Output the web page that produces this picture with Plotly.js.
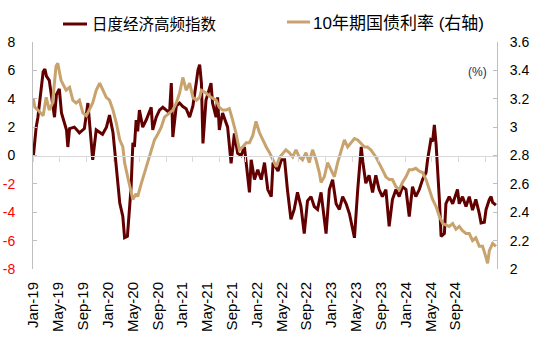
<!DOCTYPE html>
<html>
<head>
<meta charset="utf-8">
<script src="https://cdn.plot.ly/plotly-3.0.1.min.js"></script>
<style>html,body{margin:0;padding:0;background:#fff;}#chart{width:557px;height:346px;}</style>
</head>
<body>
<div id="chart"></div>
<script>
// 日度经济高频指数 (left axis)
const indexDates = ['2019-01-01','2019-01-14','2019-01-22','2019-02-15','2019-02-23','2019-03-02','2019-03-15','2019-03-30','2019-04-08','2019-04-17','2019-04-30','2019-05-10','2019-05-23','2019-06-02','2019-06-08','2019-06-16','2019-07-08','2019-07-31','2019-08-23','2019-09-08','2019-09-20','2019-09-30','2019-10-16','2019-11-14','2019-12-02','2019-12-16','2020-01-01','2020-01-16','2020-01-23','2020-02-01','2020-02-15','2020-02-23','2020-03-07','2020-03-16','2020-03-24','2020-04-01','2020-04-08','2020-04-16','2020-04-23','2020-05-01','2020-05-16','2020-06-01','2020-06-24','2020-07-01','2020-07-17','2020-08-01','2020-08-16','2020-09-01','2020-09-16','2020-09-24','2020-10-01','2020-10-17','2020-11-01','2020-11-16','2020-12-01','2020-12-17','2021-01-01','2021-01-17','2021-01-24','2021-02-01','2021-02-09','2021-02-16','2021-03-02','2021-03-25','2021-04-01','2021-04-17','2021-04-24','2021-05-02','2021-05-17','2021-06-09','2021-06-25','2021-07-10','2021-07-25','2021-08-10','2021-08-25','2021-09-17','2021-09-25','2021-10-10','2021-10-25','2021-11-10','2021-11-25','2021-12-10','2021-12-26','2022-01-03','2022-01-26','2022-02-10','2022-02-25','2022-03-10','2022-03-26','2022-04-10','2022-04-25','2022-05-11','2022-05-26','2022-06-10','2022-06-26','2022-07-11','2022-07-26','2022-08-11','2022-08-26','2022-09-03','2022-09-18','2022-10-03','2022-10-19','2022-11-03','2022-11-18','2022-12-04','2022-12-19','2023-01-03','2023-01-11','2023-01-26','2023-02-11','2023-02-18','2023-03-04','2023-03-19','2023-04-04','2023-04-19','2023-05-04','2023-05-19','2023-06-04','2023-06-19','2023-07-04','2023-07-20','2023-08-04','2023-08-19','2023-09-04','2023-09-19','2023-10-04','2023-10-19','2023-11-04','2023-11-19','2023-12-05','2023-12-12','2023-12-20','2023-12-27','2024-01-04','2024-01-12','2024-01-20','2024-01-27','2024-02-04','2024-02-12','2024-02-27','2024-03-05','2024-03-20','2024-04-05','2024-04-20','2024-04-27','2024-05-05','2024-05-20','2024-06-05','2024-06-20','2024-07-05','2024-07-20','2024-08-05','2024-08-13','2024-08-28','2024-09-05','2024-09-20','2024-09-28','2024-10-05','2024-10-20'];
const indexValues = [-0.1,2.0,2.7,5.9,6.1,5.6,5.3,3.7,2.7,4.3,4.7,3.0,2.2,1.8,0.6,1.9,2.0,1.6,1.9,3.7,1.5,-0.3,1.8,1.5,2.0,2.85,1.6,-0.8,-1.95,-3.35,-4.3,-5.8,-5.7,-3.8,-2.2,0.9,0.6,2.5,1.7,3.2,2.0,2.5,3.4,1.8,2.7,3.2,3.4,3.2,3.0,5.1,1.3,3.5,3.7,3.45,3.3,2.7,3.5,5.2,6.0,6.4,5.1,0.85,3.9,5.1,3.7,2.7,4.1,1.8,3.0,2.0,-0.55,1.55,0.15,0.0,0.6,-2.6,-0.3,-1.7,-1.0,-1.7,-0.5,-2.4,-2.9,-0.5,-1.1,-0.3,-0.3,-2.4,-4.5,-3.8,-2.6,-3.6,-5.5,-3.2,-2.9,-3.6,-3.8,-2.6,-4.8,-5.5,-2.4,-1.7,-3.4,-3.8,-2.9,-3.4,-4.1,-5.3,-5.8,-2.4,0.6,-0.4,-1.95,-1.4,-2.6,-1.4,-2.4,-2.9,-2.4,-5.0,-3.1,-2.4,-2.9,-2.2,-2.4,-4.3,-2.2,-2.9,-2.4,-1.7,-1.2,-0.3,0.4,1.1,1.0,2.15,0.8,-0.8,-3.1,-5.7,-5.5,-3.4,-2.9,-3.4,-2.7,-2.4,-3.4,-2.9,-3.6,-2.9,-3.85,-3.1,-4.1,-4.75,-4.7,-3.8,-3.1,-2.9,-3.3,-3.5];

// 10年期国债利率 (right axis, %)
const bondDates = ['2019-01-01','2019-01-08','2019-01-22','2019-02-15','2019-03-01','2019-03-15','2019-03-30','2019-04-15','2019-04-23','2019-05-08','2019-05-31','2019-06-16','2019-07-01','2019-07-16','2019-07-31','2019-08-16','2019-09-01','2019-09-16','2019-09-30','2019-10-16','2019-11-01','2019-11-16','2019-12-01','2019-12-16','2020-01-01','2020-01-16','2020-02-01','2020-02-15','2020-02-23','2020-03-08','2020-03-24','2020-04-01','2020-04-16','2020-04-23','2020-05-09','2020-05-24','2020-06-08','2020-06-24','2020-07-09','2020-07-24','2020-08-09','2020-08-24','2020-09-16','2020-10-01','2020-10-17','2020-11-01','2020-11-16','2020-12-01','2020-12-17','2021-01-01','2021-01-17','2021-02-01','2021-02-09','2021-03-02','2021-03-25','2021-04-17','2021-05-02','2021-05-17','2021-06-02','2021-06-17','2021-07-02','2021-07-17','2021-08-02','2021-08-17','2021-09-02','2021-09-17','2021-10-02','2021-10-17','2021-11-02','2021-11-17','2021-12-03','2021-12-18','2022-01-03','2022-01-18','2022-02-03','2022-02-18','2022-03-03','2022-03-18','2022-04-03','2022-04-18','2022-05-03','2022-05-18','2022-06-03','2022-06-18','2022-07-03','2022-07-19','2022-08-03','2022-08-11','2022-08-26','2022-09-10','2022-09-26','2022-10-11','2022-10-26','2022-11-11','2022-11-26','2022-12-11','2022-12-27','2023-01-11','2023-01-26','2023-02-11','2023-02-26','2023-03-11','2023-03-27','2023-04-19','2023-05-04','2023-05-19','2023-06-04','2023-06-19','2023-07-04','2023-07-20','2023-08-04','2023-08-19','2023-09-04','2023-09-19','2023-10-04','2023-10-19','2023-11-04','2023-11-19','2023-12-05','2023-12-20','2024-01-04','2024-01-20','2024-02-04','2024-02-20','2024-03-05','2024-03-20','2024-04-05','2024-04-20','2024-05-05','2024-05-20','2024-06-05','2024-06-20','2024-07-05','2024-07-20','2024-08-05','2024-08-20','2024-09-05','2024-09-12','2024-09-20','2024-10-05','2024-10-20'];
const bondValues = [3.20,3.14,3.12,3.08,3.21,3.12,3.17,3.43,3.45,3.33,3.26,3.28,3.19,3.17,3.19,3.10,3.08,3.13,3.17,3.26,3.31,3.26,3.21,3.19,3.12,3.03,2.91,2.86,2.75,2.65,2.53,2.49,2.53,2.51,2.60,2.68,2.75,2.84,2.91,2.95,3.00,3.07,3.10,3.12,3.17,3.24,3.35,3.26,3.31,3.21,3.19,3.21,3.26,3.24,3.21,3.19,3.14,3.12,3.12,3.13,3.05,2.96,2.84,2.86,2.89,2.89,2.94,3.04,2.96,2.91,2.86,2.82,2.77,2.72,2.79,2.82,2.84,2.82,2.79,2.84,2.79,2.77,2.82,2.75,2.84,2.77,2.68,2.61,2.65,2.75,2.70,2.65,2.75,2.84,2.91,2.86,2.89,2.92,2.91,2.88,2.86,2.86,2.84,2.79,2.75,2.70,2.65,2.63,2.63,2.58,2.56,2.61,2.65,2.70,2.70,2.71,2.69,2.68,2.63,2.56,2.49,2.44,2.37,2.32,2.31,2.30,2.32,2.28,2.30,2.27,2.25,2.25,2.20,2.22,2.16,2.16,2.08,2.04,2.13,2.18,2.16];

// Category labels shown under the chart
const xLabels = ['Jan-19','May-19','Sep-19','Jan-20','May-20','Sep-20','Jan-21','May-21','Sep-21','Jan-22','May-22','Sep-22','Jan-23','May-23','Sep-23','Jan-24','May-24','Sep-24'];
const leftTicks = [8,6,4,2,0,-2,-4,-6,-8];
const rightTicks = [3.6,3.4,3.2,3.0,2.8,2.6,2.4,2.2,2.0];
const seriesNames = ['日度经济高频指数','10年期国债利率 (右轴)'];

const RED = '#620000', TAN = '#C9A36E', GRID = '#BFBFBF';
const W = 557, H = 346, L = 33, R = 60, T = 42, B = 77;
const pw = W - L - R, ph = H - T - B;
const px = v => (v - L) / pw, py = v => (H - B - v) / ph;

const leftText = leftTicks.map(v => v < 0 ? '<span style="color:#FF0000">' + v + '</span>' : String(v));
const rightText = rightTicks.map(v => String(Math.round(v * 10) / 10));

const traces = [
  {x: indexDates, y: indexValues, xaxis: 'x', yaxis: 'y', mode: 'lines', name: seriesNames[0],
   line: {color: RED, width: 3}, showlegend: false},
  {x: bondDates, y: bondValues, xaxis: 'x', yaxis: 'y2', mode: 'lines', name: seriesNames[1],
   line: {color: TAN, width: 3}, showlegend: false},
  {x: [0], y: [null], xaxis: 'x2', yaxis: 'y', mode: 'lines', showlegend: false, hoverinfo: 'skip'}
];

const font = 'Liberation Sans, Arial, Noto Sans CJK SC, sans-serif';
const layout = {
  width: W, height: H,
  margin: {l: L, r: R, t: T, b: B, pad: 0},
  paper_bgcolor: '#fff', plot_bgcolor: '#fff',
  showlegend: false,
  font: {family: font, size: 14, color: '#000'},
  xaxis: {
    type: 'date', range: ['2018-12-30 12:00', '2024-10-25'],
    anchor: 'free', position: 0.5, side: 'bottom',
    tick0: '2019-01-01', dtick: 'M4',
    showticklabels: false, ticks: 'outside', ticklen: 5, tickcolor: '#D9D9D9', tickwidth: 1,
    showline: true, linecolor: '#D9D9D9', linewidth: 1,
    showgrid: false, zeroline: false
  },
  xaxis2: {
    overlaying: 'x', anchor: 'y', side: 'bottom', type: 'linear',
    range: [-0.02, 18.67], tickmode: 'array',
    tickvals: xLabels.map((_, i) => i), ticktext: xLabels,
    tickangle: -90, ticks: '', ticklabelstandoff: 9,
    tickfont: {family: font, size: 15, color: '#000'},
    showline: false, showgrid: false, zeroline: false
  },
  yaxis: {
    range: [-8, 8], anchor: 'x', side: 'left',
    tickmode: 'array', tickvals: leftTicks, ticktext: leftText,
    ticks: 'inside', ticklen: 4, tickcolor: GRID,
    showline: true, linecolor: GRID, linewidth: 1,
    showgrid: false, zeroline: false, ticklabelstandoff: 14,
    tickfont: {family: font, size: 14, color: '#000'}
  },
  yaxis2: {
    range: [2, 3.6], overlaying: 'y', anchor: 'x', side: 'right',
    tickmode: 'array', tickvals: rightTicks, ticktext: rightText,
    ticks: 'inside', ticklen: 4, tickcolor: GRID,
    showline: true, linecolor: GRID, linewidth: 1,
    showgrid: false, zeroline: false, ticklabelstandoff: 9,
    tickfont: {family: font, size: 14, color: '#000'}
  },
  shapes: [
    {type: 'line', xref: 'paper', yref: 'paper', x0: px(63), x1: px(87), y0: py(24), y1: py(24), line: {color: RED, width: 3}},
    {type: 'line', xref: 'paper', yref: 'paper', x0: px(287), x1: px(310), y0: py(22), y1: py(22), line: {color: TAN, width: 3}}
  ],
  annotations: [
    {xref: 'paper', yref: 'paper', x: px(90), y: py(24), xanchor: 'left', yanchor: 'middle', showarrow: false,
     text: seriesNames[0], font: {family: font, size: 15.5, color: '#000'}},
    {xref: 'paper', yref: 'paper', x: px(311), y: py(23), xanchor: 'left', yanchor: 'middle', showarrow: false,
     text: seriesNames[1], font: {family: font, size: 17, color: '#000'}},
    {xref: 'paper', yref: 'paper', x: px(477.5), y: py(72), xanchor: 'center', yanchor: 'middle', showarrow: false,
     text: '(%)', font: {family: font, size: 12, color: '#1F2D50'}}
  ]
};

Plotly.newPlot('chart', traces, layout, {displayModeBar: false, staticPlot: true});
</script>
</body>
</html>
